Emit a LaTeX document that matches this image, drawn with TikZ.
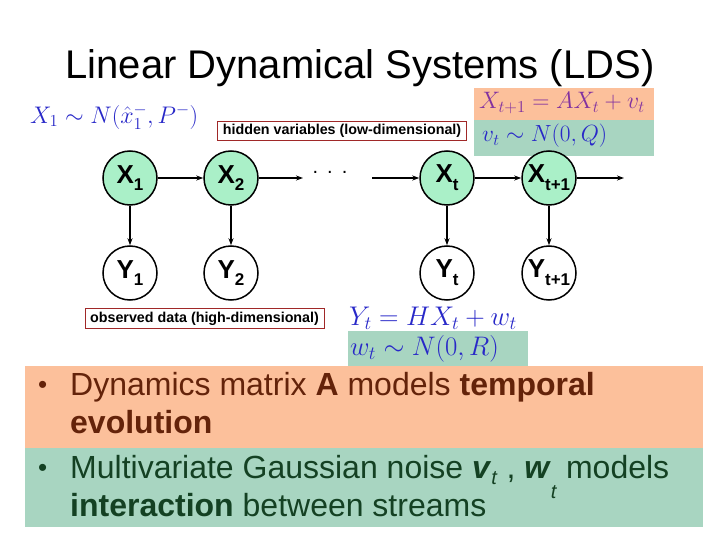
\RequirePackage{fix-cm}
\documentclass[tikz,border=0pt]{standalone}
\usepackage{fontspec}
\setmainfont{Liberation Sans}
\usetikzlibrary{arrows.meta}
\definecolor{peach}{RGB}{252,192,155}
\definecolor{sage}{RGB}{168,213,193}
\definecolor{mint}{RGB}{170,240,200}
\definecolor{mathblue}{RGB}{40,40,200}
\definecolor{purp}{RGB}{130,50,160}
\definecolor{bbrown}{RGB}{100,35,10}
\definecolor{dgreen}{RGB}{20,65,35}
\definecolor{boxred}{RGB}{160,40,40}
\newcommand{\nsub}[1]{\raisebox{-0.3em}{\fontsize{17}{17}\selectfont #1}}
\newcommand{\fs}[1]{\fontsize{#1}{#1}\selectfont}
\begin{document}
\begin{tikzpicture}[x=1pt,y=-1pt,
  hid/.style={circle,draw=black,line width=1.5pt,fill=mint,minimum size=54pt,inner sep=0pt,font=\fs{26}\bfseries},
  obs/.style={circle,draw=black,line width=1.5pt,fill=white,minimum size=54pt,inner sep=0pt,font=\fs{26}\bfseries},
  arr/.style={line width=1.2pt,-{Stealth[length=7pt,width=5pt]}},
  lbox/.style={draw=boxred,line width=0.8pt,fill=white,inner xsep=5pt,inner ysep=3pt,font=\fs{14.3}\bfseries},
  mth/.style={inner sep=0pt,text=mathblue},
  bul/.style={anchor=base west,inner sep=0pt,font=\fs{32}}]
\useasboundingbox (0,0) rectangle (720,540);
% colored boxes
\fill[peach] (474,88) rectangle (654,120);
\fill[sage] (474,120) rectangle (654,156);
\fill[sage] (348,331) rectangle (528,368);
\fill[peach] (25,366) rectangle (703,448);
\fill[sage] (25,448) rectangle (703,527);
% title
\node[inner sep=0pt,font=\fs{40}] (title) at (360,68) {Linear Dynamical Systems (LDS)};
% formulas
\node[mth,anchor=west,font=\fs{24}] (prior) at (30,117) {$X_1\sim N(\hat{x}_1^{-},P^-)$};
\node[mth,anchor=west,font=\fs{23.8},text=purp] (dyn) at (479,103) {$X_{t+1}=AX_t+v_t$};
\node[mth,anchor=west,font=\fs{23.4}] (vn) at (482,136) {$v_t\sim N(0,Q)$};
\node[mth,anchor=west,font=\fs{27}] (obsq) at (349,318) {$Y_t=HX_t+w_t$};
\node[mth,anchor=west,font=\fs{26.8}] (wn) at (350,349) {$w_t\sim N(0,R)$};
% labels
\node[lbox] (hidlab) at (342,131) {hidden variables (low-dimensional)};
\node[lbox] (obslab) at (204.5,318.5) {observed data (high-dimensional)};
% nodes
\node[hid] (x1) at (130,178) {X\nsub{1}};
\node[hid] (x2) at (231,178) {X\nsub{2}};
\node[hid] (xt) at (447,178) {X\nsub{t}};
\node[hid] (xt1) at (549,178) {X\nsub{t+1}};
\node[obs] (y1) at (130,273) {Y\nsub{1}};
\node[obs] (y2) at (231,273) {Y\nsub{2}};
\node[obs] (yt) at (447,273) {Y\nsub{t}};
\node[obs] (yt1) at (549,273) {Y\nsub{t+1}};
\coordinate (d1) at (303,178);
\coordinate (d2) at (372,178);
\coordinate (dend) at (624,178);
\node[inner sep=0pt,font=\fs{20}] (dots) at (330,172) {.\hspace{9pt}.\hspace{9pt}.};
\draw[arr] (x1) -- (x2);
\draw[arr] (x2) -- (d1);
\draw[arr] (d2) -- (xt);
\draw[arr] (xt) -- (xt1);
\draw[arr] (xt1) -- (dend);
\draw[arr] (x1) -- (y1);
\draw[arr] (x2) -- (y2);
\draw[arr] (xt) -- (yt);
\draw[arr] (xt1) -- (yt1);
% bullets
\node[bul,text=bbrown,font=\fs{26}] (b1) at (38,393) {•};
\node[bul,text=bbrown] (l1) at (70,395) {Dynamics matrix \textbf{A} models \textbf{temporal}};
\node[bul,text=bbrown] (l1b) at (70,433) {\textbf{evolution}};
\node[bul,text=dgreen,font=\fs{26}] (b2) at (38,476) {•};
\node[bul,text=dgreen] (l2) at (70,478) {Multivariate Gaussian noise \textbf{\textit{v}}\raisebox{-0.2em}{\fs{20}\textit{t}} , \textbf{\textit{w}}\raisebox{-0.65em}{\fs{20}\textit{t}} models};
\node[bul,text=dgreen] (l2b) at (70,516) {\textbf{interaction} between streams};
\end{tikzpicture}
\end{document}
